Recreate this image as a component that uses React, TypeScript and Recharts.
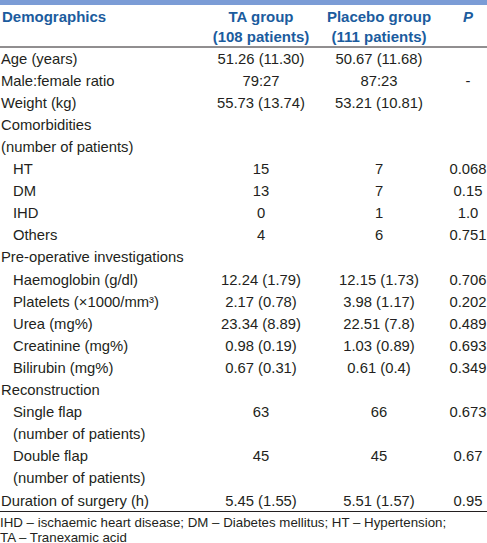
import React from "react";
import {
  ReferenceArea,
  ReferenceLine,
  Scatter,
  ScatterChart,
  XAxis,
  YAxis,
} from "recharts";

const rowLabels = [
  "Age (years)",
  "Male:female ratio",
  "Weight (kg)",
  "Comorbidities",
  "(number of patients)",
  "HT",
  "DM",
  "IHD",
  "Others",
  "Pre-operative investigations",
  "Haemoglobin (g/dl)",
  "Platelets (×1000/mm³)",
  "Urea (mg%)",
  "Creatinine (mg%)",
  "Bilirubin (mg%)",
  "Reconstruction",
  "Single flap",
  "(number of patients)",
  "Double flap",
  "(number of patients)",
  "Duration of surgery (h)",
];

const indentLevels = [0, 0, 0, 0, 0, 1, 1, 1, 1, 0, 1, 1, 1, 1, 1, 0, 1, 1, 1, 1, 0];

const taGroup = [
  "51.26 (11.30)", "79:27", "55.73 (13.74)", "", "", "15", "13", "0", "4", "",
  "12.24 (1.79)", "2.17 (0.78)", "23.34 (8.89)", "0.98 (0.19)", "0.67 (0.31)", "",
  "63", "", "45", "", "5.45 (1.55)",
];

const placeboGroup = [
  "50.67 (11.68)", "87:23", "53.21 (10.81)", "", "", "7", "7", "1", "6", "",
  "12.15 (1.73)", "3.98 (1.17)", "22.51 (7.8)", "1.03 (0.89)", "0.61 (0.4)", "",
  "66", "", "45", "", "5.51 (1.57)",
];

const pValues = [
  "", "-", "", "", "", "0.068", "0.15", "1.0", "0.751", "",
  "0.706", "0.202", "0.489", "0.693", "0.349", "",
  "0.673", "", "0.67", "", "0.95",
];

const headerLine1 = ["Demographics", "TA group", "Placebo group", "P"];
const headerLine2 = ["", "(108 patients)", "(111 patients)", ""];

const footnotes = [
  "IHD – ischaemic heart disease; DM – Diabetes mellitus; HT – Hypertension;",
  "TA – Tranexamic acid",
];

// layout
const W = 487;
const H = 543;
const ROW_TOP = 58.5;
const ROW_H = 22.1;
const LABEL_X = 1;
const INDENT = 12;
const COL_X = [261, 379, 468];
const FONT = "'Liberation Sans', Arial, sans-serif";
const FS = 14.8;
const INK = "#231f20";
const HEAD = "#1b5c9e";

const toRow = (px: number) => (px - ROW_TOP) / ROW_H;

const bodyCells = rowLabels.flatMap((label, i) => [
  { x: LABEL_X + indentLevels[i] * INDENT, y: i, text: label, anchor: "start" },
  { x: COL_X[0], y: i, text: taGroup[i], anchor: "middle" },
  { x: COL_X[1], y: i, text: placeboGroup[i], anchor: "middle" },
  { x: COL_X[2], y: i, text: pValues[i], anchor: "middle" },
]).filter((c) => c.text !== "");

const headerCells = [
  ...headerLine1.map((t, j) => ({
    x: j === 0 ? 2 : COL_X[j - 1],
    y: toRow(16.5),
    text: t,
    anchor: j === 0 ? "start" : "middle",
    italic: t === "P",
  })),
  ...headerLine2.map((t, j) => ({
    x: j === 0 ? 2 : COL_X[j - 1],
    y: toRow(36),
    text: t,
    anchor: "middle",
    italic: false,
  })),
].filter((c) => c.text !== "");

const footCells = footnotes.map((t, i) => ({
  x: 0,
  y: toRow(522.5 + i * 14.5),
  text: t,
  anchor: "start",
}));

const TextShape = (color: string, bold: boolean, size: number) => (props: any) => {
  const { cx, cy, payload } = props;
  return (
    <text
      x={payload.anchor === "start" ? payload.x : cx}
      y={cy}
      textAnchor={payload.anchor}
      dominantBaseline="central"
      fill={color}
      fontFamily={FONT}
      fontSize={size}
      fontWeight={bold ? 700 : 400}
      fontStyle={payload.italic ? "italic" : "normal"}
    >
      {payload.text}
    </text>
  );
};

export default function App() {
  return (
    <div style={{ position: "absolute", left: 0, top: 0, background: "#fff" }}>
      <ScatterChart width={W} height={H} margin={{ top: 0, right: 0, bottom: 0, left: 0 }}>
        <XAxis type="number" dataKey="x" domain={[0, W]} hide />
        <YAxis
          type="number"
          dataKey="y"
          domain={[toRow(0), toRow(H)]}
          reversed
          hide
        />
        <ReferenceArea
          y1={toRow(0)}
          y2={toRow(5)}
          x1={0}
          x2={W}
          fill="#7b9cd6"
          fillOpacity={1}
          stroke="none"
        />
        <ReferenceLine y={toRow(47)} stroke="#231f20" strokeWidth={1} />
        <ReferenceLine y={toRow(511.5)} stroke="#231f20" strokeWidth={1} />
        <Scatter data={headerCells} shape={TextShape(HEAD, true, 15)} isAnimationActive={false} />
        <Scatter data={bodyCells} shape={TextShape(INK, false, FS)} isAnimationActive={false} />
        <Scatter data={footCells} shape={TextShape(INK, false, 13.3)} isAnimationActive={false} />
      </ScatterChart>
    </div>
  );
}
